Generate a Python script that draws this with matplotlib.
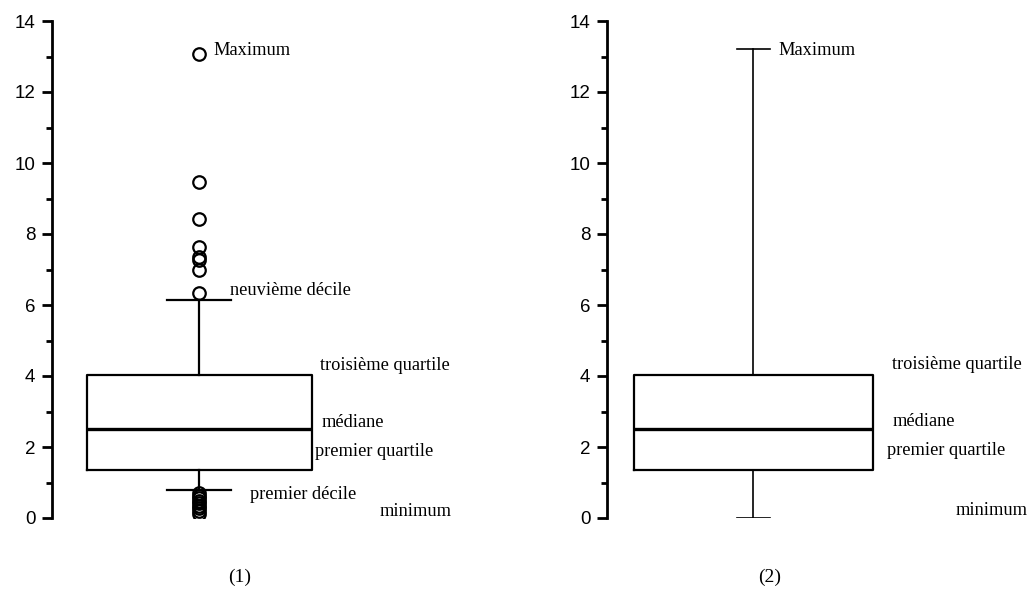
import matplotlib
matplotlib.use("Agg")
import matplotlib.pyplot as plt
from matplotlib.ticker import MultipleLocator

# ---- data ----
panel_labels = ["(1)", "(2)"]
q1 = [1.35, 1.35]
median = [2.5, 2.5]
q3 = [4.03, 4.03]
whisker_low = [0.79, 0.0]
whisker_high = [6.15, 13.2]
fliers_high_1 = [13.06, 9.47, 8.41, 7.62, 7.34, 7.28, 7.0, 6.35]
fliers_low_1 = [0.7, 0.62, 0.55, 0.48, 0.41, 0.34, 0.27, 0.2, 0.11]
yticks = [0, 2, 4, 6, 8, 10, 12, 14]

ann_left = [("Maximum", 161, 13.18), ("neuvième décile", 178, 6.41),
            ("troisième quartile", 268, 4.30), ("médiane", 270, 2.70),
            ("premier quartile", 263, 1.88), ("premier décile", 198, 0.65),
            ("minimum", 328, 0.17)]
ann_right = [("Maximum", 171, 13.18), ("troisième quartile", 285, 4.32),
             ("médiane", 286, 2.71), ("premier quartile", 280, 1.89),
             ("minimum", 349, 0.20)]

W, H = 1033, 594
fig = plt.figure(figsize=(W / 100, H / 100), dpi=100)

serif = ["Liberation Serif", "DejaVu Serif"]
sans = ["Liberation Sans", "DejaVu Sans"]

def make_ax(left_px, center, width, stats_idx, fliers, wl, anns, label_x):
    ax = fig.add_axes([left_px / W, 76 / H, 300 / W, 497 / H])
    ax.set_xlim(0, 300)
    ax.set_ylim(0, 14)
    for s in ["top", "right", "bottom"]:
        ax.spines[s].set_visible(False)
    ax.spines["left"].set_linewidth(2)
    ax.set_xticks([])
    ax.yaxis.set_major_locator(MultipleLocator(2))
    ax.yaxis.set_minor_locator(MultipleLocator(1))
    ax.tick_params(axis="y", which="major", length=7, width=2, pad=5, labelsize=13.5)
    ax.tick_params(axis="y", which="minor", length=4, width=2)
    ax.set_yticks(yticks)
    for t in ax.get_yticklabels():
        t.set_fontfamily(sans)
    i = stats_idx
    st = dict(med=median[i], q1=q1[i], q3=q3[i], whislo=whisker_low[i],
              whishi=whisker_high[i], fliers=fliers)
    capw = 64 if i == 0 else 33
    ax.bxp([st], positions=[center], widths=[width], capwidths=[capw],
           showfliers=True, patch_artist=False,
           boxprops=dict(color="black", linewidth=1.6),
           medianprops=dict(color="black", linewidth=2.4),
           whiskerprops=dict(color="black", linewidth=wl),
           capprops=dict(color="black", linewidth=wl),
           flierprops=dict(marker="o", markerfacecolor="none",
                           markeredgecolor="black", markersize=9,
                           markeredgewidth=1.6, linestyle="none"),
           manage_ticks=False)
    for txt, x, y in anns:
        ax.text(x, y, txt, fontsize=13.2, family=serif, va="center", ha="left",
                clip_on=False)
    ax.text(label_x, -1.66, panel_labels[i], fontsize=14, family=serif,
            ha="center", va="center", clip_on=False)
    return ax

fliers1 = fliers_high_1 + fliers_low_1
make_ax(52, 147, 225, 0, fliers1, 1.6, ann_left, 188)
make_ax(607, 146, 239, 1, [], 1.2, ann_right, 163)

fig.savefig("out.png", dpi=100)
